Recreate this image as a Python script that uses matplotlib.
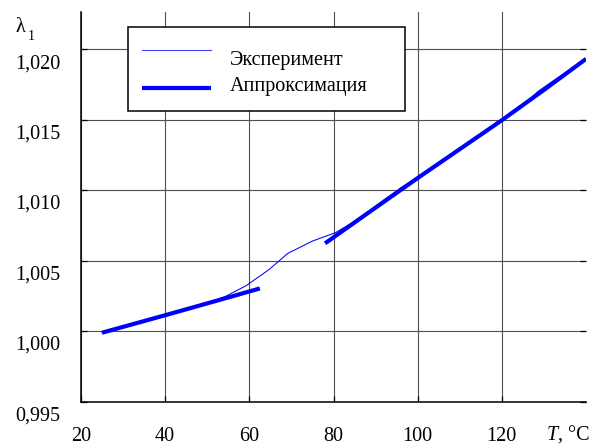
import numpy as np
import matplotlib.pyplot as plt
import matplotlib.transforms as mtransforms
from matplotlib.lines import Line2D
from matplotlib.patches import Rectangle

plt.rcParams['font.family'] = ['Liberation Serif', 'DejaVu Serif']

exp_T = [25, 30, 35, 40, 45, 50, 54.5, 59.2, 64.7, 69.1, 75, 80.5, 84, 88.4,
         92, 96.2, 100, 105, 110, 115, 120, 125, 128.6, 132, 136, 140]
exp_lam = [0.99988, 1.0003, 1.0007, 1.00112, 1.00154, 1.00196, 1.00248, 1.00321,
           1.00436, 1.0055, 1.00638, 1.00698, 1.0076, 1.0085, 1.0093, 1.0102,
           1.0109, 1.0119, 1.0129, 1.0139, 1.01495, 1.0160, 1.0170, 1.0177,
           1.0185, 1.0193]

# two approximation pieces
appr1_T = [25, 40, 55, 62.5]
appr1_lam = [0.99988, 1.00112, 1.00238, 1.00302]
appr2_T = [78, 90, 100, 110, 120, 130, 140]
appr2_lam = [1.00622, 1.00875, 1.01085, 1.0129, 1.01495, 1.0171, 1.0193]

xticks = [20, 40, 60, 80, 100, 120]
yticks = [0.995, 1.000, 1.005, 1.010, 1.015, 1.020]
ytick_labels = ['0,995', '1,000', '1,005', '1,010', '1,015', '1,020']
labels = ['Эксперимент', 'Аппроксимация']

W, H = 593, 446
fig = plt.figure(figsize=(W / 100, H / 100), dpi=100)


def fx(px):
    return px / W


def fy(py):
    return 1 - py / H


ax = fig.add_axes([fx(81), fy(401.5), (586 - 81) / W, (401.5 - 11.7) / H])
ax.set_xlim(20, 140)
ax.set_ylim(0.995, 1.02265)

ax.plot(exp_T, exp_lam, color='#0000ff', lw=0.75, zorder=3)
ax.plot(appr1_T, appr1_lam, color='#0000ff', lw=3.0, zorder=4, solid_capstyle='butt')
ax.plot(appr2_T, appr2_lam, color='#0000ff', lw=3.0, zorder=4, solid_capstyle='butt')

ax.set_xticks(xticks)
ax.set_xticklabels([str(t) for t in xticks])
ax.set_yticks(yticks)
ax.set_yticklabels(ytick_labels)
ax.grid(True, color='#505050', lw=0.8)
ax.set_axisbelow(True)

for s in ['top', 'right']:
    ax.spines[s].set_visible(False)
for s in ['left', 'bottom']:
    ax.spines[s].set_linewidth(1.1)
    ax.spines[s].set_color('black')

ax.tick_params(axis='both', direction='in', length=4.3, width=0.9, color='black',
               labelsize=14.5)
ax.tick_params(axis='x', pad=18.5)
ax.tick_params(axis='y', pad=15, right=True)
shift = mtransforms.ScaledTranslation(0, -0.05, fig.dpi_scale_trans)
for t in ax.get_yticklabels():
    t.set_verticalalignment('top')
    t.set_transform(t.get_transform() + shift)

# legend box, drawn by hand to match the original layout
box = Rectangle((fx(127.5), fy(110.5)), (404.5 - 127.5) / W, (110.5 - 27) / H,
                transform=fig.transFigure, facecolor='white', edgecolor='black',
                lw=1.1, zorder=10)
fig.add_artist(box)
fig.add_artist(Line2D([fx(141.7), fx(210.7)], [fy(50), fy(50)], color='#3c3cff',
                      lw=0.75, zorder=11))
fig.add_artist(Line2D([fx(141.7), fx(210.7)], [fy(87.7), fy(87.7)], color='#0000ff',
                      lw=3.0, zorder=11, solid_capstyle='butt'))
fig.text(fx(230), fy(65), labels[0], fontsize=14.5, va='baseline', zorder=12)
fig.text(fx(230), fy(90.7), labels[1], fontsize=14.5, va='baseline', zorder=12)

# axis labels
fig.text(fx(16), fy(32), 'λ', fontsize=14.5, va='baseline')
fig.text(fx(28), fy(40), '1', fontsize=10, va='baseline')
fig.text(fx(547), fy(440.5), 'T', fontsize=14.5, style='italic', va='baseline')
fig.text(fx(558), fy(440.5), ', °C', fontsize=14.5, va='baseline')

fig.savefig('out.png', dpi=100)
